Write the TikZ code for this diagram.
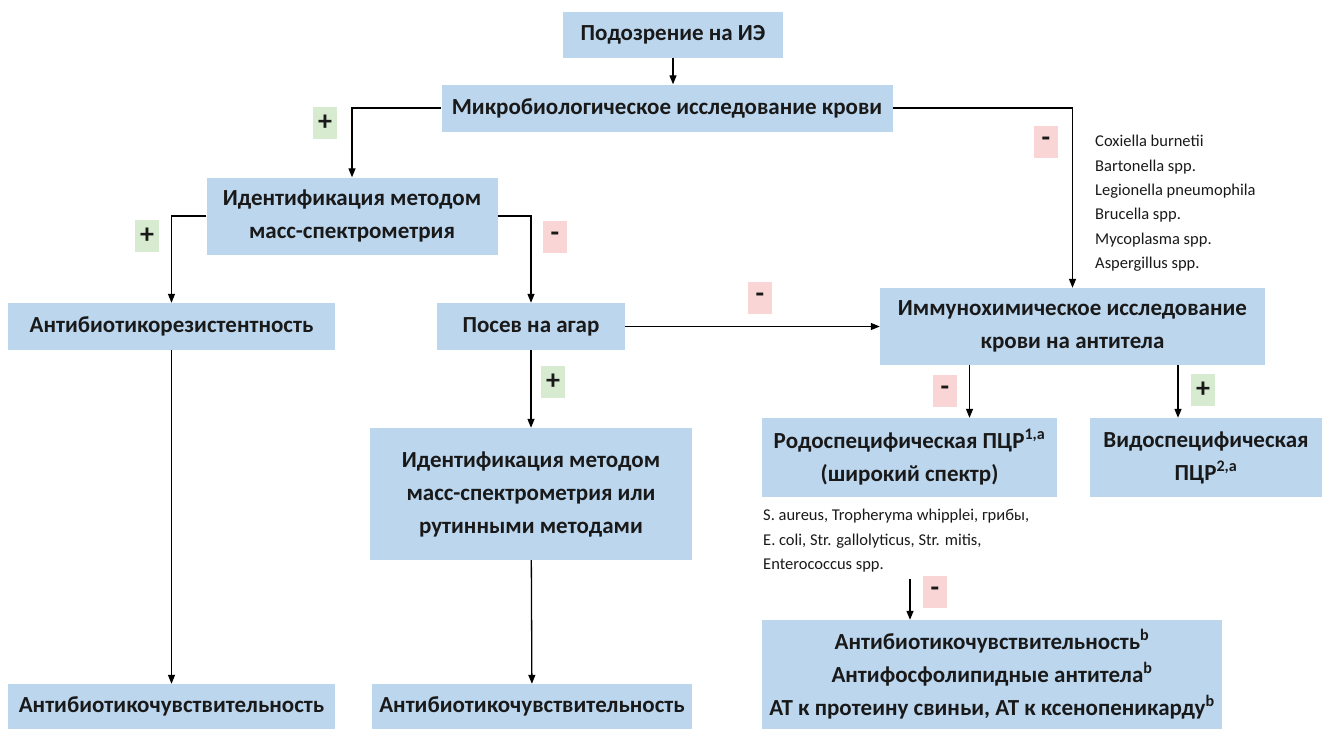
\documentclass[tikz,border=0pt]{standalone}
\usepackage{fontspec}
\setmainfont{Carlito}
\usepackage{xcolor}
\usepackage{tikz}
\usetikzlibrary{arrows.meta,positioning}
\definecolor{boxblue}{HTML}{BCD6EE}
\definecolor{plusgreen}{HTML}{D6EBCF}
\definecolor{minusred}{HTML}{F9D5D5}

\begin{document}
\begin{tikzpicture}[x=1pt, y=-1pt, every node/.style={text=black!90}, box/.style={fill=boxblue, inner sep=0pt, align=center, font=\bfseries\fontsize{23}{33}\selectfont}, plus/.style={fill=plusgreen, minimum width=24pt, minimum height=32pt, inner sep=0pt, font=\bfseries\fontsize{28}{28}\selectfont}, minus/.style={fill=minusred, minimum width=24pt, minimum height=32pt, inner sep=0pt, font=\bfseries\fontsize{28}{28}\selectfont}, spec/.style={align=left, inner sep=0pt, anchor=north west, font=\fontsize{16.5}{24.4}\selectfont}, arr/.style={-{Triangle[length=9pt,width=7pt]}, line width=1.3pt}]
\useasboundingbox (0,0) rectangle (1322,729);
\node[box, minimum width=220pt, minimum height=46pt] (start) at (673,35) {Подозрение на ИЭ};
\node[box, minimum width=451pt, minimum height=47pt] (micro) at (667,108) {Микробиологическое исследование крови};
\node[box, minimum width=291pt, minimum height=77pt] (ident) at (352,216) {Идентификация методом\\масс-спектрометрия};
\node[box, minimum width=327pt, minimum height=47pt] (resist) at (171.5,326.5) {Антибиотикорезистентность};
\node[box, minimum width=188pt, minimum height=47pt] (posev) at (531,326.5) {Посев на агар};
\node[box, minimum width=385pt, minimum height=77pt] (immuno) at (1072.5,326.5) {Иммунохимическое исследование\\крови на антитела};
\node[box, minimum width=322pt, minimum height=132pt] (ident2) at (531,494) {Идентификация методом\\масс-спектрометрия или\\рутинными методами};
\node[box, minimum width=327pt, minimum height=45pt] (sens1) at (171.5,706.5) {Антибиотикочувствительность};
\node[box, minimum width=320pt, minimum height=45pt] (sens2) at (532,706.5) {Антибиотикочувствительность};
\node[box, minimum width=295pt, minimum height=79pt] (rodo) at (909.5,457.5) {Родоспецифическая ПЦР\textsuperscript{1,a}\\(широкий спектр)};
\node[box, minimum width=232pt, minimum height=79pt] (vido) at (1206,457.5) {Видоспецифическая\\ПЦР\textsuperscript{2,a}};
\node[box, minimum width=460pt, minimum height=109pt] (final) at (992,674.5) {Антибиотикочувствительность\textsuperscript{b}\\Антифосфолипидные антитела\textsuperscript{b}\\АТ к протеину свиньи, АТ к ксенопеникарду\textsuperscript{b}};
% species lists
\node[spec] (spA) at (1095,135) {Coxiella burnetii\\Bartonella spp.\\Legionella pneumophila\\Brucella spp.\\Mycoplasma spp.\\Aspergillus spp.};
\node[spec] (spB) at (763,509) {S. aureus, Tropheryma whipplei, грибы,\\E. coli, Str. gallolyticus, Str. mitis,\\Enterococcus spp.};
% signs
\node[plus] (p1) at (325,123) {+};
\node[minus] (m1) at (1046,142) {-};
\node[plus] (p2) at (147,236) {+};
\node[minus] (m2) at (555,237) {-};
\node[minus] (m3) at (760,298) {-};
\node[plus] (p3) at (553,382) {+};
\node[minus] (m4) at (945,391) {-};
\node[plus] (p4) at (1203,390) {+};
\node[minus] (m5) at (935,592) {-};
% connectors
\coordinate (r1) at ([xshift=60pt]rodo.north);
\coordinate (v1) at ([xshift=-28pt]vido.north);
\coordinate (s2) at (910,579);
\draw[arr] (start.south) -- (start.south |- micro.north);
\draw[arr] (micro.west) -| (ident.north);
\draw[arr] (micro.east) -| (immuno.north);
\draw[arr] (ident.west) -| (resist.north);
\draw[arr] (ident.east) -| (posev.north);
\draw[arr] (posev) -- (immuno);
\draw[arr] (posev) -- (ident2);
\draw[arr] (ident2) -- (sens2);
\draw[arr] (resist) -- (sens1);
\draw[arr] (immuno.south -| r1) -- (r1);
\draw[arr] (immuno.south -| v1) -- (v1);
\draw[arr] (s2) -- (s2 |- final.north);
\end{tikzpicture}
\end{document}
